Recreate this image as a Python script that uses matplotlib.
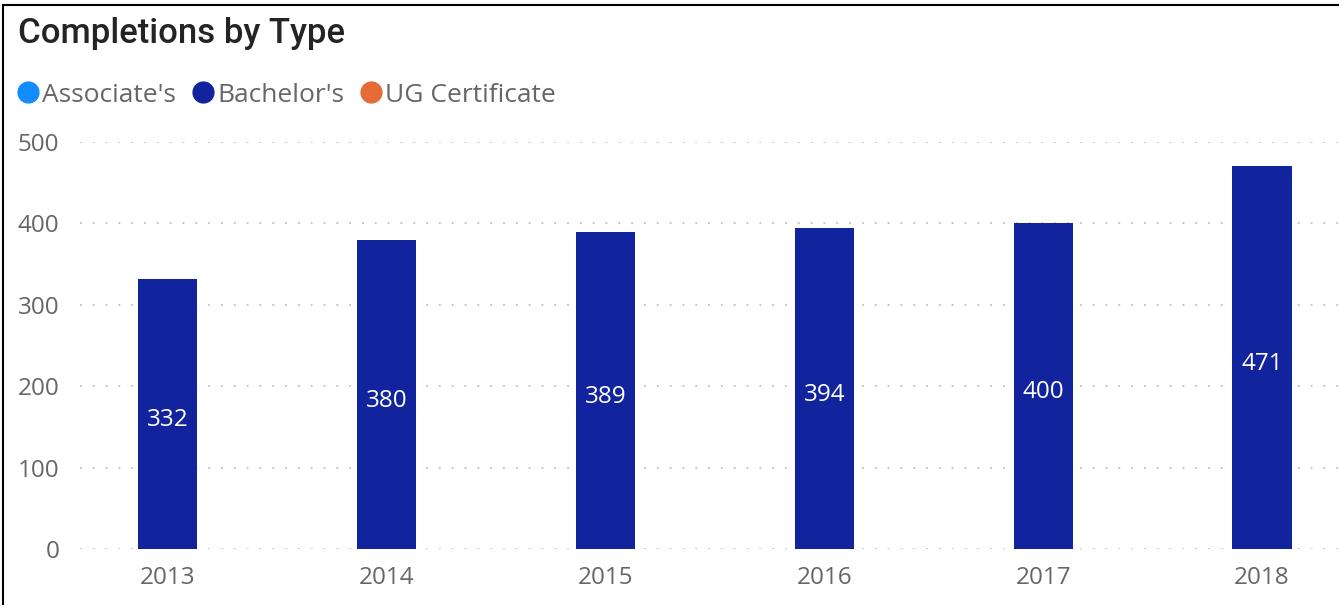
import matplotlib.pyplot as plt
from matplotlib.lines import Line2D

years = ['2013', '2014', '2015', '2016', '2017', '2018']
bachelors = [332, 380, 389, 394, 400, 471]
series_names = ["Associate's", "Bachelor's", "UG Certificate"]
series_colors = ['#118DFF', '#12239E', '#E66C37']
yticks = [0, 100, 200, 300, 400, 500]

plt.rcParams['font.family'] = ['Open Sans', 'DejaVu Sans']

fig = plt.figure(figsize=(13.39, 6.05), dpi=100)
ax = fig.add_axes([80 / 1339, 1 - 549 / 605, 1 - 80 / 1339, (549 - 142) / 605])

x = range(len(years))
bars = ax.bar(x, bachelors, width=0.27, color=series_colors[1], zorder=3)
for b, v in zip(bars, bachelors):
    ax.text(b.get_x() + b.get_width() / 2, v / 2 - 4, str(v), ha='center', va='center_baseline',
            color='white', fontsize=17.5, zorder=4)

ax.set_xlim(-0.402, 5.352)
ax.set_ylim(0, 500)
ax.set_yticks(yticks)
ax.set_xticks(list(x))
ax.set_xticklabels(years)
ax.tick_params(axis='both', length=0, labelsize=17.5, labelcolor='#666666')
ax.tick_params(axis='y', pad=15)
ax.tick_params(axis='x', pad=12)
ax.grid(axis='y', color='#c0c0c0', linewidth=1.3, linestyle=(0, (1, 6.1)), zorder=0)
for s in ax.spines.values():
    s.set_visible(False)

fig.text(18 / 1339, 1 - 33 / 605, 'Completions by Type', fontsize=25, color='#252423',
         ha='left', va='center', family=['Roboto', 'DejaVu Sans'], weight='medium')

handles = [Line2D([], [], marker='o', linestyle='none', markersize=15,
                  markerfacecolor=c, markeredgecolor=c) for c in series_colors]
fig.legend(handles, series_names, loc='center left', bbox_to_anchor=(20 / 1339, 1 - 95 / 605),
           ncol=3, frameon=False, fontsize=19, labelcolor='#666666', handlelength=0.6,
           handletextpad=0.25, columnspacing=0.7, borderaxespad=0, borderpad=0)

# frame on left and top edge
fig.add_artist(Line2D([3 / 1339, 3 / 1339], [0, 1 - 5 / 605], color='black', linewidth=1.5))
fig.add_artist(Line2D([3 / 1339, 1], [1 - 5 / 605, 1 - 5 / 605], color='black', linewidth=1.5))

fig.savefig('out.png', dpi=100)
